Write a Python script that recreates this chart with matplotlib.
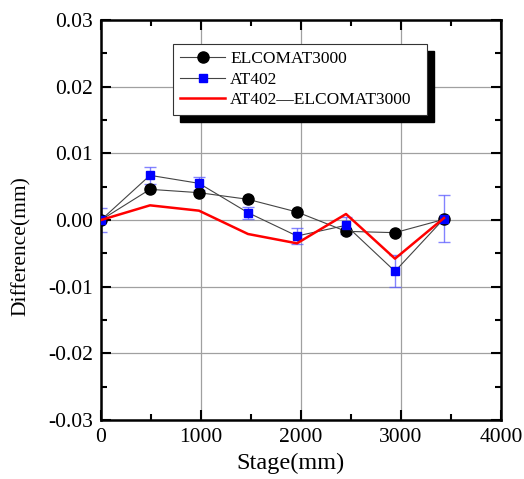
import matplotlib
matplotlib.use("Agg")
import matplotlib.pyplot as plt
from matplotlib.patches import Rectangle
from matplotlib.ticker import MultipleLocator

plt.rcParams['font.family'] = ['Liberation Serif', 'DejaVu Serif']

stage = [0, 490, 980, 1470, 1960, 2450, 2940, 3430]
elcomat = [0.0, 0.0046, 0.0041, 0.0031, 0.0012, -0.0017, -0.0019, 0.0001]
at402 = [0.0, 0.0067, 0.0055, 0.0011, -0.0024, -0.0008, -0.0077, 0.0002]
at402_err = [0.0018, 0.0013, 0.0010, 0.0009, 0.0012, 0.0013, 0.0024, 0.0035]
diff = [0.0, 0.0022, 0.0014, -0.0021, -0.0035, 0.0009, -0.0058, 0.0003]

fig = plt.figure(figsize=(5.24, 4.79), dpi=100)
ax = fig.add_axes([101/524, 1 - 420/479, 400/524, 400/479])

ax.grid(True, color='#a0a0a0', linewidth=0.9, zorder=0)
ax.set_axisbelow(True)

ax.errorbar(stage, at402, yerr=at402_err, fmt='none', ecolor='#5a5aff', alpha=0.75,
            elinewidth=1.0, capsize=4, capthick=1.0, zorder=2)
l1, = ax.plot(stage, elcomat, color='#444444', linewidth=0.8, marker='o', markersize=8,
              markerfacecolor='black', markeredgecolor='black', zorder=3, label='ELCOMAT3000')
l2, = ax.plot(stage, at402, color='#444444', linewidth=0.8, marker='s', markersize=6,
              markerfacecolor='#0000ff', markeredgecolor='#0000ff', zorder=4, label='AT402')
l3, = ax.plot(stage, diff, color='#ff0000', linewidth=1.8, zorder=5, label='AT402\u2014ELCOMAT3000')

ax.set_xlim(0, 4000)
ax.set_ylim(-0.03, 0.03)
ax.xaxis.set_major_locator(MultipleLocator(1000))
ax.xaxis.set_minor_locator(MultipleLocator(500))
ax.yaxis.set_minor_locator(MultipleLocator(0.005))
ax.set_yticks([-0.03, -0.02, -0.01, 0.0, 0.01, 0.02, 0.03])
ax.set_yticklabels(['-0.03', '-0.02', '-0.01', '0.00', '0.01', '0.02', '0.03'])

ax.tick_params(which='major', direction='in', length=7, width=1.5, labelsize=15.5,
               left=True, right=True, bottom=True, top=True, pad=6)
ax.tick_params(which='minor', direction='in', length=4, width=1.5,
               left=True, right=True, bottom=True, top=True)
for s in ax.spines.values():
    s.set_linewidth(1.8)

ax.set_xlabel('Stage(mm)', fontsize=17.5)
ax.xaxis.set_label_coords((290 - 101) / 400, (420 - 453) / 400)
ax.set_ylabel('Difference(mm)', fontsize=15.5)
ax.yaxis.set_label_coords((12 - 101) / 400, (420 - 246) / 400)
ax.yaxis.label.set_va('top')

# legend with shadow
x0, y0, x1, y1 = 173, 44, 427, 114
leg = ax.legend(handles=[l1, l2, l3], loc='upper left',
                bbox_to_anchor=((x0 - 101) / 400, (420 - y1) / 400,
                                (x1 - x0) / 400, (y1 - y0) / 400),
                mode='expand',
                fontsize=12.5, frameon=True, fancybox=False, framealpha=1,
                edgecolor='#333333', borderpad=0.4, labelspacing=0.25,
                handlelength=2.6, handletextpad=0.3, borderaxespad=0)
leg.get_frame().set_linewidth(0.8)
leg.set_zorder(20)

fig.canvas.draw()
bb = leg.get_frame().get_window_extent(fig.canvas.get_renderer())
off = 7
shadow = Rectangle((bb.x0 + off, bb.y0 - off), bb.width, bb.height, transform=None,
                   facecolor='black', edgecolor='black', zorder=15, clip_on=False)
ax.add_patch(shadow)

fig.savefig('out.png', dpi=100)
